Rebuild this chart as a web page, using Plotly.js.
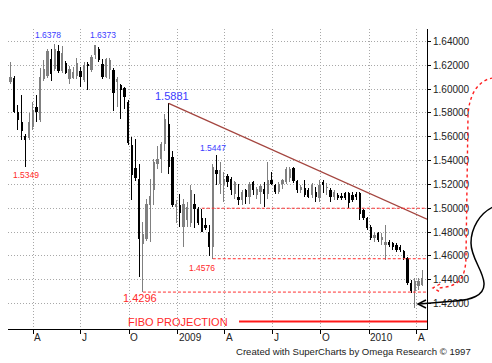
<!DOCTYPE html>
<html><head><meta charset="utf-8">
<script src="https://cdn.plot.ly/plotly-3.0.1.min.js"></script>
<style>html,body{margin:0;padding:0;background:#fff;}#chart{width:492px;height:363px;}</style>
</head><body><div id="chart"></div>
<script>
// Weekly EUR/CHF candles, first week starting 2008-02-18
const firstWeek = Date.UTC(2008, 1, 18);
const openP  = [1.6061,1.6090,1.5806,1.5720,1.5608,1.5589,1.5686,1.5847,1.5742,1.6086,
                1.6108,1.6250,1.6172,1.6319,1.6153,1.6222,1.6083,1.6097,1.6111,1.6153,
                1.6075,1.6214,1.6158,1.6283,1.6339,1.6214,1.6103,1.6158,1.6158,1.6061,
                1.6033,1.6006,1.5894,1.5533,1.5339,1.5242,1.4700,1.4742,1.5025,1.5150,
                1.5372,1.5414,1.5539,1.5706,1.5428,1.5011,1.5025,1.4844,1.4900,1.4872,
                1.5039,1.4997,1.4914,1.4858,1.4803,1.4678,1.5317,1.5206,1.5192,1.5267,
                1.5247,1.5122,1.5094,1.5067,1.5150,1.5094,1.5219,1.5108,1.5136,1.5164,
                1.5122,1.5239,1.5192,1.5136,1.5206,1.5219,1.5250,1.5339,1.5228,1.5156,
                1.5167,1.5153,1.5111,1.5139,1.5083,1.5222,1.5167,1.5153,1.5097,1.5111,
                1.5106,1.5125,1.5125,1.5111,1.5119,1.5125,1.4983,1.4914,1.4844,1.4747,
                1.4789,1.4733,1.4692,1.4720,1.4706,1.4692,1.4678,1.4642,1.4581,1.4372,
                1.4303,1.4344,1.4358];
const highP  = [1.6230,1.6110,1.5867,1.5950,1.5620,1.5797,1.5894,1.5950,1.6181,1.6244,
                1.6339,1.6333,1.6378,1.6372,1.6365,1.6233,1.6194,1.6189,1.6264,1.6190,
                1.6230,1.6230,1.6283,1.6373,1.6350,1.6255,1.6260,1.6260,1.6175,1.6103,
                1.6047,1.6019,1.5908,1.5600,1.5583,1.5372,1.4881,1.5075,1.5242,1.5414,
                1.5525,1.5553,1.5789,1.5881,1.5483,1.5067,1.5122,1.5081,1.5053,1.5192,
                1.5122,1.5011,1.4997,1.4914,1.4858,1.5372,1.5447,1.5386,1.5303,1.5289,
                1.5261,1.5230,1.5206,1.5150,1.5164,1.5219,1.5225,1.5178,1.5206,1.5219,
                1.5386,1.5303,1.5206,1.5219,1.5247,1.5344,1.5347,1.5347,1.5236,1.5197,
                1.5236,1.5167,1.5208,1.5181,1.5236,1.5236,1.5208,1.5167,1.5153,1.5125,
                1.5125,1.5139,1.5139,1.5139,1.5139,1.5139,1.4997,1.4928,1.4858,1.4803,
                1.4803,1.4789,1.4858,1.4733,1.4720,1.4706,1.4692,1.4650,1.4594,1.4400,
                1.4414,1.4414,1.4483];
const lowP   = [1.6047,1.5800,1.5658,1.5575,1.5349,1.5575,1.5658,1.5728,1.5728,1.6070,
                1.6094,1.6069,1.6150,1.6139,1.6139,1.6125,1.6042,1.6083,1.6083,1.6020,
                1.6060,1.5990,1.6140,1.6250,1.6228,1.6089,1.6090,1.6089,1.5814,1.5853,
                1.5750,1.5833,1.5533,1.5067,1.5228,1.4419,1.4296,1.4728,1.4714,1.5025,
                1.5331,1.5300,1.5483,1.5289,1.5011,1.4872,1.4844,1.4678,1.4844,1.4844,
                1.4831,1.4858,1.4803,1.4817,1.4600,1.4576,1.5192,1.5122,1.5053,1.5178,
                1.5108,1.5081,1.5025,1.5025,1.5039,1.5039,1.5108,1.5081,1.5039,1.5011,
                1.5081,1.5192,1.5122,1.5122,1.5164,1.5206,1.5219,1.5208,1.5125,1.5125,
                1.5097,1.5083,1.5083,1.5056,1.5056,1.5125,1.5111,1.5056,1.5069,1.5069,
                1.5069,1.5069,1.5000,1.5056,1.5069,1.4900,1.4900,1.4817,1.4733,1.4719,
                1.4719,1.4692,1.4567,1.4678,1.4650,1.4636,1.4636,1.4567,1.4358,1.4289,
                1.4160,1.4317,1.4344];
const closeP = [1.6103,1.5810,1.5740,1.5645,1.5575,1.5728,1.5825,1.5811,1.6103,1.6169,
                1.6319,1.6125,1.6333,1.6153,1.6300,1.6139,1.6167,1.6144,1.6222,1.6100,
                1.6200,1.6192,1.6269,1.6367,1.6242,1.6103,1.6256,1.6242,1.5964,1.6089,
                1.5992,1.5936,1.5547,1.5283,1.5256,1.4742,1.4783,1.5033,1.5100,1.5386,
                1.5414,1.5539,1.5747,1.5344,1.5025,1.5039,1.4956,1.5039,1.5011,1.5150,
                1.4997,1.4872,1.4803,1.4831,1.4678,1.5344,1.5289,1.5317,1.5247,1.5219,
                1.5150,1.5219,1.5067,1.5136,1.5094,1.5206,1.5150,1.5164,1.5183,1.5122,
                1.5233,1.5206,1.5136,1.5206,1.5233,1.5331,1.5333,1.5228,1.5153,1.5178,
                1.5111,1.5097,1.5194,1.5097,1.5194,1.5194,1.5181,1.5097,1.5139,1.5083,
                1.5089,1.5083,1.5042,1.5069,1.5097,1.4950,1.4914,1.4831,1.4747,1.4775,
                1.4733,1.4761,1.4720,1.4692,1.4678,1.4650,1.4650,1.4581,1.4372,1.4303,
                1.4386,1.4386,1.4414];

const quarterTicks  = ['2008-04-01','2008-07-01','2008-10-01','2009-01-01','2009-04-01','2009-07-01','2009-10-01','2010-01-01','2010-04-01'];
const quarterLabels = ['A','J','O','2009','A','J','O','2010','A'];
const priceTicks = [1.42,1.44,1.46,1.48,1.50,1.52,1.54,1.56,1.58,1.60,1.62,1.64];

const trendPrices = [1.5881, 1.4908];        // from the Dec-2008 high to the right edge
const fiboLevels  = [1.5000, 1.4576, 1.4296];
const fiboStartWeek = [52, 55, 36];
const projectionLevel = 1.4050;
const projectionStart = '2009-04-28';
const xEnd = '2010-04-21', xStart = '2008-02-13';

// ---------- build ----------
const DAY = 864e5;
const dates = openP.map((_, k) => new Date(firstWeek + k * 7 * DAY).toISOString().slice(0, 10));
const up = openP.map((o, k) => closeP[k] >= o);
const col = up.map(u => u ? '#808080' : '#000000');
const bodyBase = openP.map((o, k) => Math.min(o, closeP[k]));
const bodyH = openP.map((o, k) => Math.max(Math.abs(closeP[k] - o), 0.0007));

const traces = [];
traces.push({type:'bar', x:dates, base:lowP, y:highP.map((h,k)=>h-lowP[k]), width:1.9*DAY,
  marker:{color:col, line:{width:0}}, hoverinfo:'skip'});
traces.push({type:'bar', x:dates, base:bodyBase, y:bodyH, width:4.4*DAY,
  marker:{color:col, line:{width:0}}, hoverinfo:'skip'});
traces.push({type:'scatter', mode:'lines', x:[dates[43], xEnd], y:trendPrices,
  line:{color:'#a4453f', width:1.3}, hoverinfo:'skip'});
fiboLevels.forEach((lv, i) => {
  traces.push({type:'scatter', mode:'lines', x:[dates[fiboStartWeek[i]], xEnd], y:[lv, lv],
    line:{color:'#ff3030', width:1, dash:'3px,2px'}, hoverinfo:'skip'});
});
traces.push({type:'scatter', mode:'lines', x:[projectionStart, xEnd], y:[projectionLevel, projectionLevel],
  line:{color:'#ff1a1a', width:2}, hoverinfo:'skip', cliponaxis:false});

// pixel -> paper helpers for decorations
const PX = p => (p - 8) / 419, PY = p => (329 - p) / 300;
function path(segs){
  return segs.map(s => s[0] + s.slice(1).reduce((a, v, i) =>
    a + (i % 2 === 0 ? (i ? ' ' : '') + PX(v).toFixed(4) : ',' + PY(v).toFixed(4)), '')).join(' ');
}
const F = 'Liberation Sans, Arial, sans-serif';
const ann = [];
quarterLabels.forEach((t, i) => ann.push({x:quarterTicks[i], xref:'x', y:0, yref:'paper', xanchor:'left', yanchor:'top',
  yshift:-1, xshift:-1, text:t, showarrow:false, font:{family:F, size:10, color:'#222'}}));
function lab(t, px, py, size, color, anchor){
  ann.push({x:PX(px), y:PY(py), xref:'paper', yref:'paper', xanchor:anchor||'center', yanchor:'middle',
    text:t, showarrow:false, font:{family:F, size:size, color:color}});
}
lab('1.6378', 47.5, 35.5, 8.5, '#3b3bff');
lab('1.6373', 103, 35.5, 8.5, '#3b3bff');
lab('1.5881', 172, 96, 11, '#3b3bff');
lab('1.5447', 212.5, 147.5, 8.5, '#3b3bff');
lab('1.5349', 25.5, 174.5, 8.5, '#ff2a2a');
lab('1.4576', 201.5, 267.5, 8.5, '#ff2a2a');
lab('1.4296', 139.5, 297.5, 11, '#ff2a2a');
lab('FIBO PROJECTION', 126, 322, 11, '#ff2a2a', 'left');
lab('Created with SuperCharts by Omega Research \u00a9 1997', 473, 351, 9.6, '#222', 'right');

const shapes = [
  {type:'path', xref:'paper', yref:'paper', line:{color:'#ff2020', width:1.4, dash:'dot'},
   path: path([['M',493,78],['C',478,80,469,95,468,115],['L',466,255],['C',466,280,458,287,437,288]])},
  {type:'path', xref:'paper', yref:'paper', line:{color:'#ff2020', width:1.4, dash:'dot'},
   path: path([['M',440,284],['L',433,288],['L',440,292]])},
  {type:'path', xref:'paper', yref:'paper', line:{color:'#000', width:1.5},
   path: path([['M',493,207],['C',480,213,471,228,471,243],['C',471,258,483,270,484,283],['C',485,296,470,300,455,301],['L',419,304]])},
  {type:'path', xref:'paper', yref:'paper', line:{color:'#000', width:1.5},
   path: path([['M',426,300],['L',418,304],['L',426,308]])}
];

const layout = {
  width:492, height:363, margin:{l:8, r:65, t:29, b:34},
  paper_bgcolor:'#fff', plot_bgcolor:'#fff', showlegend:false, barmode:'overlay', bargap:0,
  hovermode:false,
  xaxis:{type:'date', range:[xStart, xEnd], tickmode:'array', tickvals:quarterTicks, showticklabels:false,
    ticks:'outside', ticklen:4, tickcolor:'#000', showgrid:true, gridcolor:'#a8a8a8', griddash:'1px,2px', gridwidth:1,
    showline:true, linecolor:'#000', linewidth:1, zeroline:false, fixedrange:true},
  yaxis:{side:'right', range:[1.3986, 1.6505], tickmode:'array', tickvals:priceTicks, tickformat:'.5f',
    ticks:'outside', ticklen:3, tickcolor:'#000', showgrid:true, gridcolor:'#a8a8a8', griddash:'1px,2px', gridwidth:1,
    showline:true, linecolor:'#000', linewidth:1, zeroline:false, tickfont:{family:F, size:10, color:'#222'}},
  annotations:ann, shapes:shapes
};
Plotly.newPlot('chart', traces, layout, {staticPlot:true, displayModeBar:false});
</script></body></html>
